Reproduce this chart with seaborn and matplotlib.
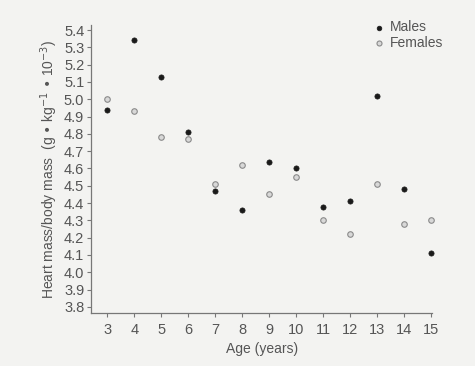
import pandas as pd
import matplotlib
matplotlib.use('Agg')
import matplotlib.pyplot as plt
import seaborn as sns

# 数据
ages = [3, 4, 5, 6, 7, 8, 9, 10, 11, 12, 13, 14, 15]
males = [4.94, 5.34, 5.13, 4.81, 4.47, 4.36, 4.64, 4.60, 4.38, 4.41, 5.02, 4.48, 4.11]
females = [5.00, 4.93, 4.78, 4.77, 4.51, 4.62, 4.45, 4.55, 4.30, 4.22, 4.51, 4.28, 4.30]
y_ticks = [3.8, 3.9, 4.0, 4.1, 4.2, 4.3, 4.4, 4.5, 4.6, 4.7, 4.8, 4.9, 5.0, 5.1, 5.2, 5.3, 5.4]

df = pd.DataFrame({
    "age": ages * 2,
    "ratio": males + females,
    "sex": ["Males"] * len(ages) + ["Females"] * len(ages),
})

sns.set_style("ticks")
plt.rcParams['font.family'] = ['Liberation Sans', 'DejaVu Sans']

bg = "#f3f3f1"
fig = plt.figure(figsize=(4.75, 3.66), dpi=100, facecolor=bg)
ax = fig.add_axes([0.192, 0.145, 0.718, 0.787], facecolor=bg)

sns.scatterplot(data=df[df["sex"] == "Males"], x="age", y="ratio", ax=ax,
                color="#1a1a1a", edgecolor="#1a1a1a", s=14, linewidth=0.5,
                label="Males", clip_on=False)
sns.scatterplot(data=df[df["sex"] == "Females"], x="age", y="ratio", ax=ax,
                color="#d8d8d8", edgecolor="#8a8a8a", s=16, linewidth=0.8,
                label="Females", clip_on=False)

ax.set_xlim(2.4, 15.05)
ax.set_ylim(3.765, 5.43)
ax.set_xticks(ages)
ax.set_yticks(y_ticks)
ax.set_yticklabels([f"{v:.1f}" for v in y_ticks])

grey = "#555555"
for s in ["top", "right"]:
    ax.spines[s].set_visible(False)
for s in ["left", "bottom"]:
    ax.spines[s].set_color("#777777")
    ax.spines[s].set_linewidth(0.9)
ax.tick_params(axis="both", colors="#777777", labelcolor=grey, labelsize=10.5,
               length=3, width=0.8, direction="out", pad=2)
ax.tick_params(axis="x", pad=4)

ax.set_xlabel("Age (years)", fontsize=10, color=grey, labelpad=4)
ax.set_ylabel(r"Heart mass/body mass  (g • kg$^{-1}$ • 10$^{-3}$)",
              fontsize=10, color=grey, labelpad=3)

leg = ax.legend(loc="upper right", bbox_to_anchor=(1.06, 1.05), frameon=False,
                fontsize=10, handletextpad=-0.2, borderpad=0.2, labelspacing=0.1,
                markerscale=0.9)
for t in leg.get_texts():
    t.set_color(grey)

plt.savefig("out.png", dpi=100, facecolor=bg)
plt.close()
